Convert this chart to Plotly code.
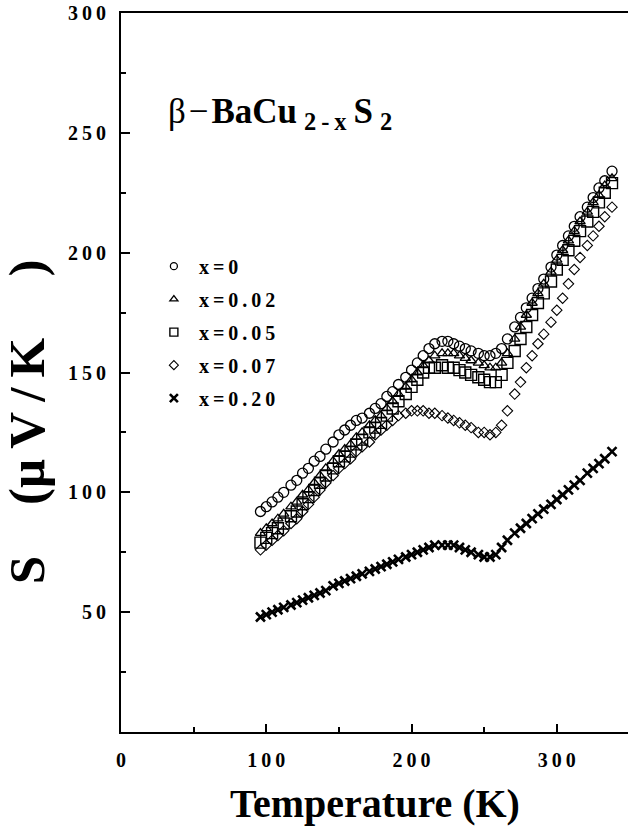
import plotly.graph_objects as go

# Temperature (K) of each measurement
temperature = [96, 100, 104, 108, 112, 117, 121, 125, 129, 133, 137, 141, 146, 150, 154,
               158, 162, 166, 171, 175, 179, 183, 187, 191, 196, 200, 204, 208, 212, 216,
               221, 225, 229, 233, 237, 241, 246, 250, 254, 258, 262, 266, 271, 275, 279,
               283, 287, 291, 296, 300, 304, 308, 312, 316, 321, 325, 329, 333, 338]

# Seebeck coefficient S (uV/K) for each composition
s_x000 = [92, 94, 96, 98, 100, 103, 105, 108, 110, 113, 115, 118, 121, 124, 126,
          128, 130, 131, 133, 135, 137, 140, 142, 145, 148, 151, 154, 157, 160, 162,
          163, 163, 162, 161, 160, 159, 158, 157, 157, 158, 160, 164, 169, 173, 177,
          181, 185, 189, 194, 199, 203, 207, 211, 215, 219, 223, 227, 230, 234]
s_x002 = [83, 85, 87, 89, 91, 94, 96, 99, 101, 104, 107, 110, 113, 116, 118,
          120, 123, 125, 128, 130, 132, 135, 138, 141, 144, 147, 150, 153, 155, 157,
          158, 158, 158, 157, 156, 155, 154, 153, 152, 152, 154, 158, 164, 169, 174,
          179, 183, 187, 192, 197, 201, 205, 209, 213, 217, 221, 224, 228, 231]
s_x005 = [79, 81, 83, 85, 87, 90, 92, 95, 98, 101, 104, 107, 110, 113, 115,
          117, 120, 122, 125, 127, 129, 132, 135, 138, 141, 144, 147, 150, 152, 152,
          153, 152, 152, 151, 150, 149, 148, 147, 146, 146, 149, 154, 159, 164, 169,
          174, 179, 183, 188, 193, 197, 201, 205, 209, 213, 217, 221, 225, 229]
s_x007 = [76, 78, 80, 82, 84, 87, 89, 92, 95, 98, 101, 104, 107, 110, 112,
          114, 117, 119, 121, 124, 126, 128, 130, 132, 133, 134, 134, 134, 133, 133,
          132, 131, 130, 129, 128, 127, 125, 125, 124, 125, 128, 134, 141, 146, 152,
          157, 162, 166, 171, 176, 181, 187, 193, 198, 203, 207, 211, 215, 219]
s_x020 = [48, 49, 50, 51, 52, 53, 54, 55, 56, 57, 58, 59, 61, 62, 63,
          64, 65, 66, 67, 68, 69, 70, 71, 72, 73, 74, 75, 76, 77, 78,
          78, 78, 78, 77, 76, 75, 74, 73, 73, 74, 77, 80, 83, 85, 87,
          89, 91, 93, 95, 97, 99, 101, 103, 105, 108, 110, 112, 114, 117]

series_labels = ["x=0", "x=0.02", "x=0.05", "x=0.07", "x=0.20"]
x_tick_values = [0, 100, 200, 300]
y_tick_values = [50, 100, 150, 200, 250, 300]

SERIF = "Liberation Serif"


def spaced(text):
    """Open up the letter spacing of a label with thin spaces."""
    return "\u2009".join(text)


def bold_spaced(text):
    return "<b>" + spaced(text) + "</b>"


series = [
    (s_x000, "circle-open", 10, 1.3),
    (s_x002, "triangle-up-open", 9, 1.3),
    (s_x005, "square-open", 11, 1.4),
    (s_x007, "diamond-open", 8, 1.1),
    (s_x020, "x-thin-open", 9, 2.6),
]

fig = go.Figure()

for values, symbol, size, lw in series:
    fig.add_trace(go.Scatter(
        x=temperature, y=values, mode="markers", showlegend=False,
        marker=dict(symbol=symbol, size=size, color="black",
                    line=dict(color="black", width=lw)),
    ))

# legend entries with smaller symbols
legend_sizes = [7, 7, 8, 7, 8]
for (values, symbol, size, lw), label, lsize in zip(series, series_labels, legend_sizes):
    fig.add_trace(go.Scatter(
        x=[None], y=[None], mode="markers", name=bold_spaced(label),
        legendgroup=label,
        marker=dict(symbol=symbol, size=lsize, color="black",
                    line=dict(color="black", width=lw)),
    ))

fig.update_layout(
    width=628, height=827,
    margin=dict(l=121, r=0, t=13, b=95),
    paper_bgcolor="white", plot_bgcolor="white",
    font=dict(family=SERIF, color="black"),
    showlegend=True,
    legend=dict(
        x=0.055, y=0.675, xanchor="left", yanchor="top",
        bgcolor="rgba(0,0,0,0)", borderwidth=0,
        font=dict(family=SERIF, size=20, color="black"),
        tracegroupgap=4, itemwidth=40,
    ),
    xaxis=dict(
        range=[0, 349], showgrid=False, zeroline=False,
        showline=True, linecolor="black", linewidth=2, mirror=True,
        ticks="inside", ticklen=8, tickwidth=1.5, tickcolor="black",
        tickvals=x_tick_values,
        ticktext=[bold_spaced(str(v)) for v in x_tick_values],
        tickfont=dict(family=SERIF, size=20, color="black"),
        ticklabelstandoff=9,
        minor=dict(dtick=50, ticks="inside", ticklen=5, tickwidth=1.5, tickcolor="black"),
    ),
    yaxis=dict(
        range=[0, 300], showgrid=False, zeroline=False,
        showline=True, linecolor="black", linewidth=2, mirror=False,
        ticks="inside", ticklen=9, tickwidth=1.5, tickcolor="black",
        tickvals=y_tick_values,
        ticktext=[bold_spaced(str(v)) for v in y_tick_values],
        tickfont=dict(family=SERIF, size=20, color="black"),
        ticklabelstandoff=9,
        minor=dict(dtick=25, ticks="inside", ticklen=5, tickwidth=1.5, tickcolor="black"),
    ),
)

# compound name
fig.add_annotation(
    xref="paper", yref="paper", x=0.088, y=0.86, xanchor="left", yanchor="middle",
    showarrow=False,
    text=("β\u200a−\u200a<b>BaCu</b>\u2009<sub><b>2\u2009-\u2009x</b></sub>"
          "\u2009<b>S</b>\u2009<sub><b>2</b></sub>"),
    font=dict(family=SERIF, size=35, color="black"),
)

# axis titles
fig.add_annotation(
    xref="paper", yref="paper", x=0.5, y=-0.1, xanchor="center", yanchor="middle",
    showarrow=False, text="<b>Temperature (K)</b>",
    font=dict(family=SERIF, size=40, color="black"),
)
fig.add_annotation(
    xref="paper", yref="paper", x=-0.185, y=0.431, xanchor="center", yanchor="middle",
    showarrow=False, textangle=-90,
    text="<b>S\u2003(μ\u2009V\u2009/\u2009K\u2003\u2009)</b>",
    font=dict(family=SERIF, size=51, color="black"),
)

fig.write_html("out.html")
